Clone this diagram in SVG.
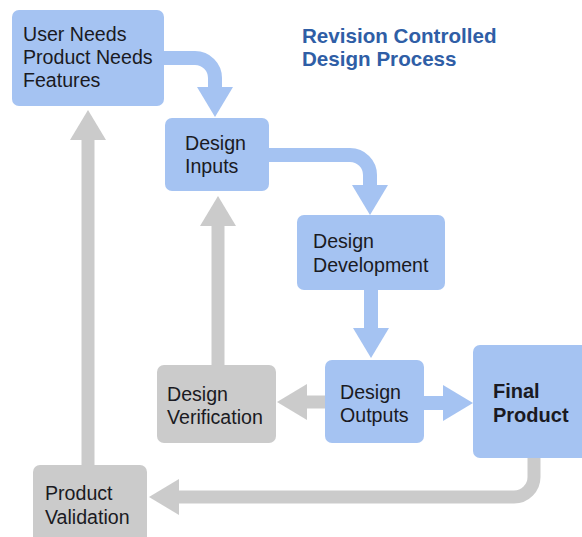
<svg xmlns="http://www.w3.org/2000/svg" width="582" height="537" viewBox="0 0 582 537">
<defs>
<style>
.blue{fill:#a5c3f2}
.gray{fill:#cbcbcb}
.t{font-family:"Liberation Sans",Arial,sans-serif;font-size:19.6px;fill:#1a1a22}
.b{font-weight:bold;font-size:20px}
.title{font-family:"Liberation Sans",Arial,sans-serif;font-size:20.6px;font-weight:bold;fill:#2f5ea6}
.sb{fill:none;stroke:#a5c3f2;stroke-width:14}
.sg{fill:none;stroke:#cbcbcb;stroke-width:13}
</style>
<marker id="hb" markerUnits="userSpaceOnUse" markerWidth="30" markerHeight="36" viewBox="0 0 30 36" refX="0" refY="18" orient="auto"><path d="M0,0 L30,18 L0,36 z" fill="#a5c3f2"/></marker>
<marker id="hg" markerUnits="userSpaceOnUse" markerWidth="30" markerHeight="36" viewBox="0 0 30 36" refX="0" refY="18" orient="auto"><path d="M0,0 L30,18 L0,36 z" fill="#cbcbcb"/></marker>
</defs>
<rect width="582" height="537" fill="#ffffff"/>
<g id="connectors">
<path class="sb" d="M160,58 H195 A20,20 0 0 1 215,78 V87" marker-end="url(#hb)"/>
<path class="sb" d="M265,155 H350 A20,20 0 0 1 370,175 V185" marker-end="url(#hb)"/>
<path class="sb" d="M371,286 V328" marker-end="url(#hb)"/>
<path class="sb" d="M420,403 H443" marker-end="url(#hb)"/>
<path class="sg" d="M329,402 H307" marker-end="url(#hg)"/>
<path class="sg" d="M218,369 V226" marker-end="url(#hg)"/>
<path class="sg" d="M88,469 V140" marker-end="url(#hg)"/>
<path class="sg" d="M534,454 V477 A20,20 0 0 1 514,497 H179" marker-end="url(#hg)"/>
</g>
<g id="user-needs">
<rect class="blue" x="12" y="10" width="152" height="96" rx="7"/>
<text class="t" x="23" y="41">User Needs</text>
<text class="t" x="23" y="64">Product Needs</text>
<text class="t" x="23" y="87">Features</text>
</g>
<g id="design-inputs">
<rect class="blue" x="165" y="118" width="104" height="73" rx="7"/>
<text class="t" x="185" y="150">Design</text>
<text class="t" x="185" y="173">Inputs</text>
</g>
<g id="design-development">
<rect class="blue" x="297" y="215" width="148" height="75" rx="7"/>
<text class="t" x="313" y="248">Design</text>
<text class="t" x="313" y="272">Development</text>
</g>
<g id="design-outputs">
<rect class="blue" x="325" y="360" width="99" height="83" rx="7"/>
<text class="t" x="340" y="399">Design</text>
<text class="t" x="340" y="422">Outputs</text>
</g>
<g id="design-verification">
<rect class="gray" x="157" y="365" width="119" height="78" rx="7"/>
<text class="t" x="167" y="401">Design</text>
<text class="t" x="167" y="424">Verification</text>
</g>
<g id="final-product">
<rect class="blue" x="473" y="345" width="120" height="113" rx="7"/>
<text class="t b" x="493" y="398">Final</text>
<text class="t b" x="493" y="422">Product</text>
</g>
<g id="product-validation">
<rect class="gray" x="33" y="465" width="114" height="80" rx="7"/>
<text class="t" x="45" y="500">Product</text>
<text class="t" x="45" y="524">Validation</text>
</g>
<g id="title">
<text class="title" x="302" y="43">Revision Controlled</text>
<text class="title" x="302" y="66">Design Process</text>
</g>
</svg>
